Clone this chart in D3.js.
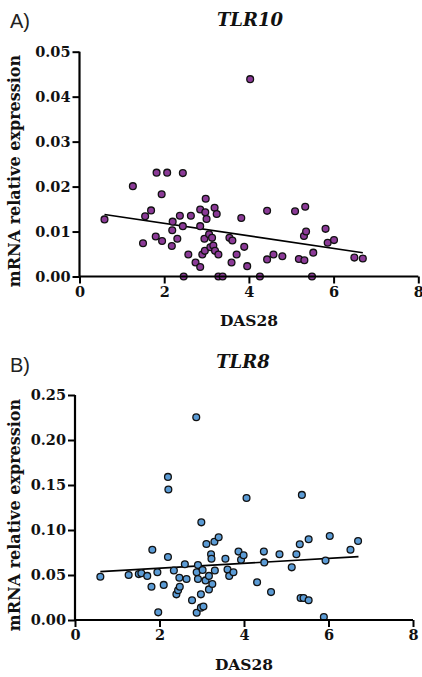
<!DOCTYPE html>
<html><head><meta charset="utf-8">
<script src="https://cdn.jsdelivr.net/npm/d3@7"></script>
<style>
html,body{margin:0;padding:0;background:#fff;}
svg{display:block;}
</style></head>
<body>
<svg id="chart" width="422" height="677"></svg>
<script>
// ---- data ----
const xTicks = [0, 2, 4, 6, 8];
const tlr10YTicks = [0, 0.01, 0.02, 0.03, 0.04, 0.05];
const tlr8YTicks = [0, 0.05, 0.10, 0.15, 0.20, 0.25];

const tlr10X = [0.59,1.26,1.50,1.55,1.69,1.80,1.82,1.94,1.95,2.07,2.18,2.19,2.20,2.31,2.37,2.44,2.44,2.46,2.57,2.63,2.74,2.85,2.85,2.85,2.90,2.95,2.97,2.98,3.00,2.96,3.06,3.09,3.13,3.16,3.19,3.20,3.24,3.28,3.28,3.38,3.54,3.59,3.61,3.71,3.82,3.89,3.96,4.26,4.43,4.43,4.58,4.79,5.09,5.18,5.30,5.31,5.33,5.35,5.49,5.52,5.81,5.86,6.01,6.49,6.69,4.03];
const tlr10Y = [0.0127,0.0201,0.0074,0.0134,0.0147,0.0089,0.0231,0.0183,0.0079,0.0231,0.0068,0.0103,0.0122,0.0084,0.0135,0.0230,0.0112,0,0.0049,0.0135,0.0031,0.0021,0.0149,0.0112,0.0049,0.0084,0.0143,0.0173,0.0128,0.0057,0.0094,0.0065,0.0086,0.0069,0.0153,0.0057,0.0139,0.0049,0,0,0.0086,0.0031,0.0080,0.0049,0.0130,0.0066,0.0023,0,0.0038,0.0146,0.0049,0.0045,0.0145,0.0039,0.0090,0.0036,0.0155,0.0100,0,0.0053,0.0106,0.0075,0.0081,0.0042,0.0040,0.0439];
const tlr10LineX = [0.59, 6.69];
const tlr10LineY = [0.0138, 0.0053];

const tlr8X = [0.60,1.27,1.51,1.57,1.71,1.83,1.81,1.95,1.97,2.10,2.20,2.34,2.40,2.44,2.47,2.48,2.60,2.64,2.77,2.88,2.91,2.88,2.91,2.98,2.98,3.04,3.02,3.09,3.11,3.17,3.17,3.22,3.23,3.25,3.31,3.30,3.56,3.61,3.65,3.75,3.87,3.93,3.99,4.31,4.47,4.48,4.64,4.84,5.13,5.24,5.34,5.41,5.53,5.89,5.93,6.52,6.70,2.87,2.20,2.21,4.06,5.37,2.99,3.40,5.32,5.53,6.03];
const tlr8Y = [0.0481,0.050,0.051,0.052,0.049,0.078,0.037,0.053,0.0085,0.039,0.070,0.055,0.0285,0.033,0.047,0.037,0.062,0.0455,0.022,0.008,0.061,0.053,0.0455,0.0285,0.0137,0.015,0.0555,0.044,0.0845,0.049,0.034,0.073,0.068,0.040,0.055,0.087,0.068,0.056,0.049,0.053,0.076,0.067,0.072,0.042,0.076,0.064,0.031,0.073,0.0585,0.073,0.0245,0.0245,0.022,0.0033,0.066,0.078,0.0878,0.2252,0.159,0.145,0.1356,0.139,0.1085,0.0919,0.0841,0.0897,0.0933];
const tlr8LineX = [0.60, 6.71];
const tlr8LineY = [0.0537, 0.0704];

const svg = d3.select("#chart");
const serif = "'DejaVu Serif', serif";

function panel(o) {
  const g = svg.append("g");
  const x = d3.scaleLinear().domain([0, 8]).range([o.x0, o.x1]);
  const y = d3.scaleLinear().domain([0, o.yMax]).range([o.y0, o.y1]);

  // regression line
  g.append("line")
    .attr("x1", x(o.lx[0])).attr("y1", y(o.ly[0]))
    .attr("x2", x(o.lx[1])).attr("y2", y(o.ly[1]))
    .attr("stroke", "#000").attr("stroke-width", 1.6);

  // points
  g.selectAll("circle.pt").data(o.xs.map((v, i) => [v, o.ys[i]]))
    .enter().append("circle").attr("class", "pt")
    .attr("cx", d => x(d[0])).attr("cy", d => y(d[1]))
    .attr("r", 3.4).attr("fill", o.color)
    .attr("stroke", "#111").attr("stroke-width", 1.3);

  // axes
  const xa = g.append("g").attr("transform", `translate(0,${o.y0})`)
    .call(d3.axisBottom(x).tickValues(xTicks).tickFormat(d3.format("d")).tickSize(7).tickPadding(3));
  const ya = g.append("g").attr("transform", `translate(${o.x0},0)`)
    .call(d3.axisLeft(y).tickValues(o.yTicks).tickFormat(d3.format(".2f")).tickSize(7).tickPadding(2));
  [xa, ya].forEach(a => {
    a.select(".domain").attr("stroke", "#000").attr("stroke-width", 2.2);
    a.selectAll(".tick line").attr("stroke", "#000").attr("stroke-width", 2);
    a.selectAll("text").attr("font-family", serif).attr("font-weight", "bold")
      .attr("font-size", "14.5px").attr("fill", "#111");
  });
  // make domain path without outer ticks overhang
  xa.select(".domain").attr("d", `M${o.x0},0H${o.x1}`);
  ya.select(".domain").attr("d", `M0,${o.y0}V${o.y1}`);

  // panel letter
  g.append("text").attr("x", 10).attr("y", o.letterY).text(o.letter)
    .attr("font-family", "'Liberation Sans', Arial, sans-serif")
    .attr("font-size", "20px").attr("fill", "#222");
  // title
  g.append("text").attr("x", o.titleX).attr("y", o.titleY).attr("text-anchor", "middle")
    .text(o.title).attr("font-family", serif).attr("font-weight", "bold")
    .attr("font-style", "italic").attr("font-size", "18px").attr("fill", "#111");
  // x label
  g.append("text").attr("x", o.xlabX).attr("y", o.xlabY).attr("text-anchor", "middle")
    .text("DAS28").attr("font-family", serif).attr("font-weight", "bold")
    .attr("font-size", "15.5px").attr("fill", "#111");
  // y label
  g.append("text").attr("transform", `translate(19.5,${o.ylabY}) rotate(-90)`)
    .attr("text-anchor", "middle").text("mRNA relative expression")
    .attr("font-family", serif).attr("font-weight", "bold")
    .attr("font-size", "16px").attr("fill", "#111");
}

panel({x0: 79.5, x1: 418.3, y0: 276.5, y1: 51.7, yMax: 0.05, yTicks: tlr10YTicks,
  xs: tlr10X, ys: tlr10Y, lx: tlr10LineX, ly: tlr10LineY, color: "#8b3a97",
  letter: "A)", letterY: 28, title: "TLR10", titleX: 250, titleY: 25.5,
  xlabX: 249, xlabY: 326, ylabY: 171});

panel({x0: 75, x1: 413, y0: 620, y1: 395, yMax: 0.25, yTicks: tlr8YTicks,
  xs: tlr8X, ys: tlr8Y, lx: tlr8LineX, ly: tlr8LineY, color: "#5b9bd5",
  letter: "B)", letterY: 371.5, title: "TLR8", titleX: 243, titleY: 367.5,
  xlabX: 244, xlabY: 670, ylabY: 515});
</script>
</body></html>
